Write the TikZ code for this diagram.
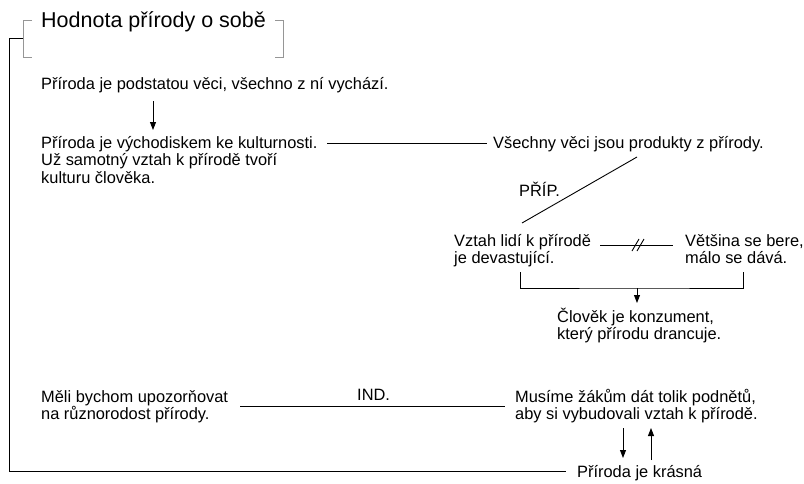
\documentclass[tikz,border=0pt]{standalone}
\usepackage{fontspec}
\setmainfont{Liberation Sans}
\usetikzlibrary{arrows.meta}
\definecolor{brk}{RGB}{150,150,150}
\begin{document}
\begin{tikzpicture}[x=1pt,y=-1pt,
  txt/.style={inner sep=0pt,anchor=base west,align=left,font=\fontsize{16.4}{17.5}\selectfont},
  ttl/.style={inner sep=0pt,anchor=base west,font=\fontsize{21.5}{24}\selectfont},
  ln/.style={line width=0.9pt},
  arr/.style={line width=0.9pt,-{Triangle[width=6pt,length=8pt]}}]
\useasboundingbox (0,0) rectangle (804,483);
% title and bracket
\node[ttl] (title) at (41,27) {Hodnota přírody o sobě};
\draw[brk,line width=0.9pt] (32,20) -- (23,20) -- (23,57) -- (32,57);
\draw[brk,line width=0.9pt] (275,20) -- (283,20) -- (283,57) -- (275,57);
\coordinate (bl) at (23,38);
% texts (multi-line nodes are anchored at the baseline of their last line)
\node[txt] (n1) at (41,89) {Příroda je podstatou věci, všechno z ní vychází.};
\node[txt] (n2) at (41,183) {Příroda je východiskem ke kulturnosti.\\Už samotný vztah k přírodě tvoří\\kulturu člověka.};
\node[txt] (n3) at (493,148) {Všechny věci jsou produkty z přírody.};
\node[txt] (pr) at (519,196) {PŘÍP.};
\node[txt] (n5) at (454,263.5) {Vztah lidí k přírodě\\je devastující.};
\node[txt] (n6) at (685,263.5) {Většina se bere,\\málo se dává.};
\node[txt] (n7) at (557,339.5) {Člověk je konzument,\\který přírodu drancuje.};
\node[txt] (n8) at (41,419.5) {Měli bychom upozorňovat\\na různorodost přírody.};
\node[txt] (ind) at (357,400) {IND.};
\node[txt] (n9) at (515,419.5) {Musíme žákům dát tolik podnětů,\\aby si vybudovali vztah k přírodě.};
\node[txt] (n10) at (577,477) {Příroda je krásná};
% connectors
\coordinate (a1s) at (153,101);
\coordinate (a1e) at (153,130);
\draw[arr] (a1s) -- (a1e);
\coordinate (l2s) at (327,143);
\coordinate (l2e) at (487,143);
\draw[ln] (l2s) -- (l2e);
\coordinate (ds) at (637,157);
\coordinate (de) at (522,223);
\draw[ln] (ds) -- (de);
\coordinate (l5s) at (600,245);
\coordinate (l5e) at (673,245);
\draw[ln] (l5s) -- (l5e);
\draw[ln] (632,251) -- (639,239) (637,251) -- (644,239);
\coordinate (bL) at (520,272);
\coordinate (bR) at (743,272);
\coordinate (bM) at (637,288);
\draw[ln] (bL) |- (bM) -| (bR);
\draw[arr] (bM) -- (637,303);
\coordinate (l8s) at (240,406);
\coordinate (l8e) at (505,406);
\draw[ln] (l8s) -- (l8e);
\coordinate (d1s) at (623,428);
\coordinate (d1e) at (623,458);
\draw[arr] (d1s) -- (d1e);
\coordinate (u1s) at (651,460);
\coordinate (u1e) at (651,428);
\draw[arr] (u1s) -- (u1e);
\coordinate (bot) at (566,471);
\draw[ln] (bl) -- (9,38) |- (bot);
\end{tikzpicture}
\end{document}
